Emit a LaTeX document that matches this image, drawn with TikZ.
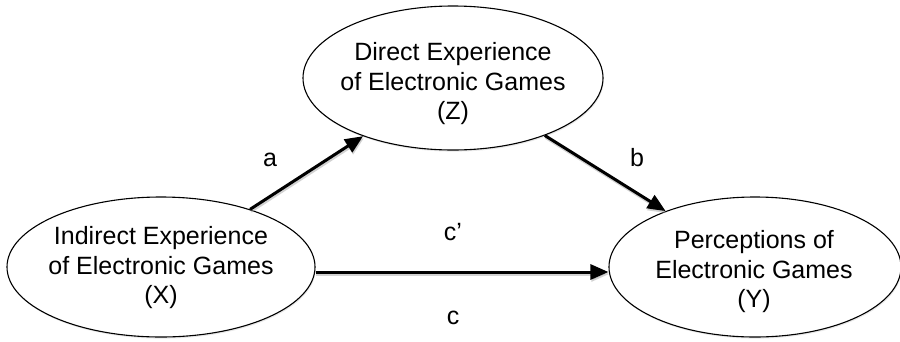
\documentclass[tikz,border=0pt]{standalone}
\usepackage{fontspec}
\setmainfont{Liberation Sans}
\usetikzlibrary{shapes.geometric,arrows.meta,shadows}

\tikzset{
  construct/.style={ellipse, draw=black, line width=1.1pt, fill=white, inner sep=0pt,
    drop shadow={opacity=0.18, shadow xshift=0.8pt, shadow yshift=-1.6pt}},
  caption/.style={align=center, font=\fontsize{25}{29.5}\selectfont},
  pathlabel/.style={font=\fontsize{25}{30}\selectfont},
  effect/.style={line width=3pt, -{Triangle[length=18pt,width=15pt]}},
  effectshadow/.style={effect, draw=black!35, opacity=0.5,
    transform canvas={xshift=0.8pt, yshift=-2pt}}
}

\begin{document}
\begin{tikzpicture}[x=1pt,y=-1pt]
  \useasboundingbox (0,0) rectangle (900,341);

  % the three constructs of the mediation model
  \node[construct, minimum width=300pt, minimum height=144pt] (Z) at (453,78) {};
  \node[construct, minimum width=308pt, minimum height=140pt] (X) at (161,267) {};
  \node[construct, minimum width=292pt, minimum height=140pt] (Y) at (755,267) {};

  \node[caption] (Zt) at (453,84) {Direct Experience\\of Electronic Games\\(Z)};
  \node[caption] (Xt) at (161,268) {Indirect Experience\\of Electronic Games\\(X)};
  \node[caption] (Yt) at (754,272) {Perceptions of\\Electronic Games\\(Y)};

  % effects between them (shadow first, then the arrow itself)
  \draw[effectshadow] (X) -- (Z);
  \draw[effect] (X) -- (Z);
  \draw[effectshadow] (Z) -- (Y);
  \draw[effect] (Z) -- (Y);
  \draw[effectshadow] ([yshift=-5pt]X.east) -- ([yshift=-5pt]Y.west);
  \draw[effect] ([yshift=-5pt]X.east) -- ([yshift=-5pt]Y.west);

  % path labels
  \node[pathlabel] (la) at (270,160) {a};
  \node[pathlabel] (lb) at (637,158) {b};
  \node[pathlabel] (lcp) at (453,232) {c’};
  \node[pathlabel] (lc) at (453,318) {c};
\end{tikzpicture}
\end{document}
